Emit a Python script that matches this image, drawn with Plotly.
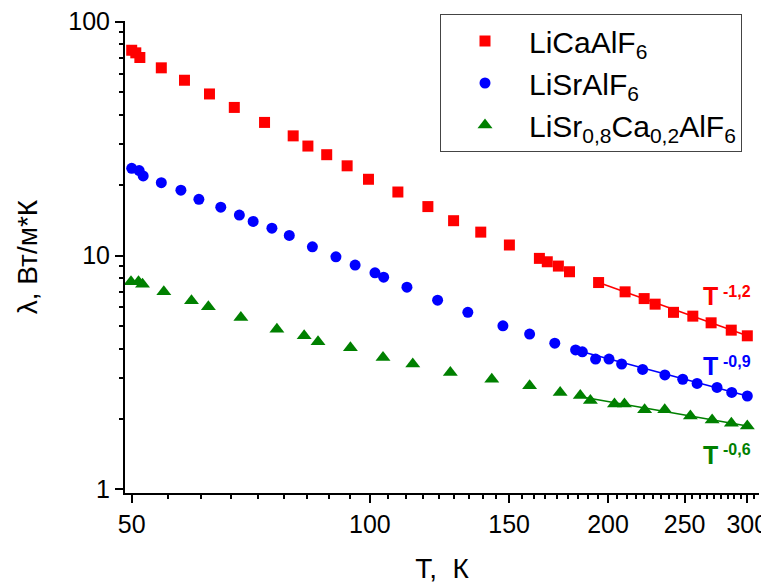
import plotly.graph_objects as go

# ---- data ----
RED_T = [50, 50.6, 51.2, 54.5, 58.3, 62.7, 67.4, 73.6, 80, 83.5, 88.2, 93.6, 99.6, 108.5, 118.4,
         127.6, 138.1, 150.1, 163.8, 167.6, 173.1, 178.8, 194.6, 210.2, 222.2, 229.4, 242, 256,
         270, 286.3, 300]
RED_L = [75.5, 73.6, 70.3, 63.5, 56.2, 49.1, 43.0, 37.1, 32.5, 29.4, 27.0, 24.2, 21.2, 18.7, 16.2,
         14.1, 12.6, 11.1, 9.73, 9.41, 9.02, 8.53, 7.67, 7.0, 6.55, 6.2, 5.72, 5.51, 5.16, 4.80, 4.54]

BLUE_T = [50.0, 51.1, 51.7, 54.5, 57.7, 60.8, 64.8, 68.4, 71.2, 75.2, 79.1, 84.6, 90.6, 95.8,
          101.5, 104.1, 111.4, 121.8, 133.0, 147.3, 159.2, 171.3, 182.0, 185.6, 192.9, 200.6,
          208.1, 221.2, 236.0, 248.6, 259.2, 274.7, 286.7, 300]
BLUE_L = [23.6, 23.1, 21.9, 20.5, 19.05, 17.4, 16.1, 14.9, 14.0, 13.1, 12.2, 10.9, 9.88, 9.11,
          8.44, 8.09, 7.33, 6.45, 5.72, 5.01, 4.62, 4.22, 3.95, 3.88, 3.61, 3.61, 3.44, 3.26,
          3.09, 2.96, 2.84, 2.73, 2.60, 2.51]

GREEN_T = [49.9, 51.0, 51.6, 54.9, 59.5, 62.5, 68.7, 76.3, 82.6, 86.0, 94.5, 103.9, 113.3, 126.4,
           142.6, 159.2, 174.0, 184.5, 190.0, 203.8, 209.8, 222.5, 235.9, 254.2, 270.8, 286.4, 300]
GREEN_L = [7.73, 7.73, 7.55, 7.0, 6.41, 6.04, 5.44, 4.84, 4.54, 4.28, 4.04, 3.67, 3.44, 3.16,
           2.96, 2.78, 2.60, 2.52, 2.40, 2.32, 2.32, 2.19, 2.19, 2.06, 1.98, 1.92, 1.87]

RED_FIT_T, RED_FIT_L = [194.6, 300], [7.67, 4.54]
BLUE_FIT_T, BLUE_FIT_L = [186, 300], [3.87, 2.51]
GREEN_FIT_T, GREEN_FIT_L = [184, 300], [2.50, 1.87]

NAMES = ["LiCaAlF<sub>6</sub>", "LiSrAlF<sub>6</sub>", "LiSr<sub>0,8</sub>Ca<sub>0,2</sub>AlF<sub>6</sub>"]
FIT_LABELS = ["-1,2", "-0,9", "-0,6"]

X_TICKS = [50, 100, 150, 200, 250, 300]
Y_TICKS = [1, 10, 100]
X_MINOR = [50 + k * 50 / 9 for k in range(0, 54) if k % 9 != 0]
Y_MINOR = [m * d for d in (1, 10) for m in range(2, 10)]

RED, BLUE, GREEN = "#ff0000", "#0000ff", "#008000"
FONT = "Liberation Sans, Arial, sans-serif"

fig = go.Figure()
for ft, fl, c in [(RED_FIT_T, RED_FIT_L, RED), (BLUE_FIT_T, BLUE_FIT_L, BLUE), (GREEN_FIT_T, GREEN_FIT_L, GREEN)]:
    fig.add_trace(go.Scatter(x=ft, y=fl, mode="lines", line=dict(color=c, width=1.5),
                             showlegend=False, hoverinfo="skip"))

fig.add_trace(go.Scatter(x=RED_T, y=RED_L, mode="markers", name=NAMES[0],
                         marker=dict(symbol="square", size=11, color=RED)))
fig.add_trace(go.Scatter(x=BLUE_T, y=BLUE_L, mode="markers", name=NAMES[1],
                         marker=dict(symbol="circle", size=11, color=BLUE)))
fig.add_trace(go.Scatter(x=GREEN_T, y=GREEN_L, mode="markers", name=NAMES[2],
                         marker=dict(symbol="triangle-up", size=13, color=GREEN)))

# page body has an 8px default margin: lay the figure out 8px smaller
OFF = 8
W, H = 769 - OFF, 585 - OFF
L, R, T, B = 125 - OFF, 10, 21 - OFF, 92
PW, PH = W - L - R, H - T - B


def px(x):
    return (x - OFF - L) / PW


def py(y):
    return (H - B - (y - OFF)) / PH


for (ty, sy), lab, c in zip([(296, 291), (366, 361), (455, 449)], FIT_LABELS, [RED, BLUE, GREEN]):
    fig.add_annotation(text="<b>T</b>", x=px(710), y=py(ty), xref="paper", yref="paper",
                       showarrow=False, xanchor="center", yanchor="middle",
                       font=dict(family=FONT, size=25, color=c))
    fig.add_annotation(text="<b>" + lab + "</b>", x=px(721), y=py(sy), xref="paper", yref="paper",
                       showarrow=False, xanchor="left", yanchor="middle",
                       font=dict(family=FONT, size=16, color=c))

fig.update_layout(
    width=W, height=H,
    margin=dict(l=L, r=R, t=T, b=B, autoexpand=False),
    paper_bgcolor="white", plot_bgcolor="white",
    font=dict(family=FONT, color="black"),
    legend=dict(x=px(440), y=py(14), xanchor="left", yanchor="top",
                bordercolor="#444444", borderwidth=1, bgcolor="white",
                font=dict(family=FONT, size=30), itemwidth=78,
                tracegroupgap=0),
    showlegend=True,
)

fig.update_xaxes(
    type="log", range=[1.6905, 2.4919], automargin=False, ticklabeloverflow="allow",
    tickmode="array", tickvals=X_TICKS, ticktext=[str(v) for v in X_TICKS],
    ticks="outside", ticklen=8, tickwidth=1.5, tickcolor="black",
    minor=dict(tickmode="array", tickvals=X_MINOR, ticks="outside", ticklen=4,
               tickwidth=1.5, tickcolor="black", showgrid=False),
    showline=True, linecolor="black", linewidth=2, mirror=False,
    showgrid=False, zeroline=False,
    tickfont=dict(family=FONT, size=25, color="black"),
    title=dict(text="T,  К", font=dict(family=FONT, size=28, color="black"), standoff=21),
)
fig.update_yaxes(
    type="log", range=[-0.015, 2.003], automargin=False, ticklabeloverflow="allow",
    tickmode="array", tickvals=Y_TICKS, ticktext=[str(v) for v in Y_TICKS],
    ticks="outside", ticklen=8, tickwidth=1.5, tickcolor="black",
    minor=dict(tickmode="array", tickvals=Y_MINOR, ticks="outside", ticklen=4,
               tickwidth=1.5, tickcolor="black", showgrid=False),
    showline=True, linecolor="black", linewidth=2, mirror=False,
    showgrid=False, zeroline=False,
    tickfont=dict(family=FONT, size=25, color="black"),
    title=dict(text="λ, Вт/м*К", font=dict(family=FONT, size=28, color="black"), standoff=22),
)

fig.write_html("out.html")
